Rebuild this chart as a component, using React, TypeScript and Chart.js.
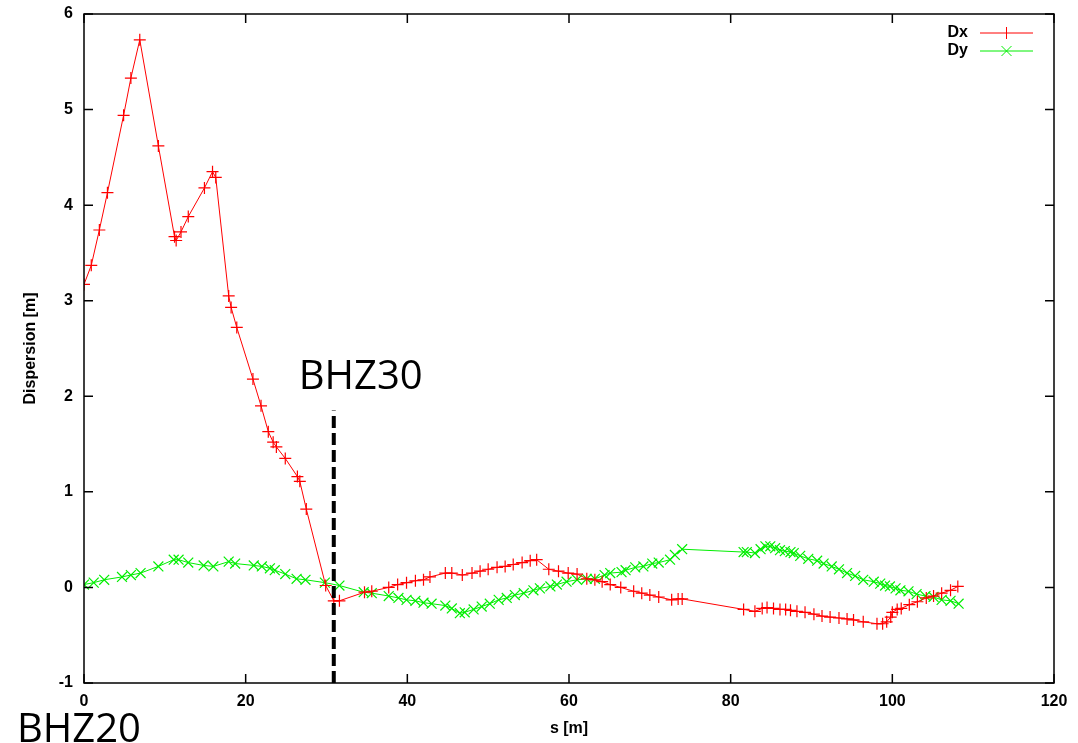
import React, { useEffect, useRef } from "react";
import { Chart, registerables } from "chart.js";

Chart.register(...registerables);

// ---- data ----
const sDx = [0, 0.9, 1.9, 2.9, 4.9, 5.8, 6.9, 9.2, 11.2, 11.4,
  12.0, 12.9, 14.9, 15.9, 16.3, 17.9, 18.2, 18.9, 20.9, 21.9,
  22.8, 23.4, 23.8, 24.9, 26.4, 26.7, 27.5, 29.9, 30.9, 31.6,
  34.7, 35.6, 37.7, 38.8, 39.9, 41.0, 42.0, 42.8, 44.7, 45.5,
  46.8, 48.0, 49.0, 50.0, 51.1, 52.1, 53.1, 54.2, 55.2, 56.0,
  57.5, 58.7, 59.9, 61.0, 62.2, 63.2, 64.1, 65.1, 66.4, 68.0,
  69.0, 70.0, 71.1, 72.7, 73.5, 74.0, 81.6, 83.0, 83.9, 84.5,
  85.3, 86.1, 86.8, 87.4, 88.2, 89.2, 90.3, 91.3, 92.3, 93.4,
  94.4, 95.2, 96.4, 98.1, 98.8, 99.3, 99.8, 100.0, 100.6, 101.1,
  102.1, 103.1, 104.2, 105.1, 106.1, 107.2, 108.1];
const dxValues = [3.17, 3.37, 3.74, 4.13, 4.94, 5.33, 5.73, 4.62, 3.67, 3.63,
  3.72, 3.88, 4.18, 4.35, 4.29, 3.05, 2.93, 2.72, 2.18, 1.90,
  1.63, 1.52, 1.47, 1.35, 1.16, 1.11, 0.82, 0.02, -0.14, -0.14,
  -0.05, -0.04, 0.00, 0.03, 0.05, 0.07, 0.08, 0.11, 0.15, 0.15,
  0.13, 0.15, 0.17, 0.19, 0.21, 0.22, 0.24, 0.26, 0.28, 0.29,
  0.19, 0.17, 0.15, 0.14, 0.09, 0.08, 0.06, 0.03, 0.00, -0.04,
  -0.06, -0.08, -0.10, -0.13, -0.12, -0.12, -0.23, -0.25, -0.22, -0.21,
  -0.22, -0.23, -0.23, -0.24, -0.25, -0.26, -0.28, -0.30, -0.31, -0.32,
  -0.33, -0.34, -0.36, -0.38, -0.38, -0.36, -0.31, -0.26, -0.23, -0.22,
  -0.18, -0.15, -0.11, -0.09, -0.06, -0.03, 0.01];

const sDy = [0, 1.2, 2.5, 4.7, 5.8, 7.0, 9.2, 11.1, 11.7, 12.9,
  14.8, 16.0, 17.9, 18.7, 21.0, 22.0, 23.0, 23.6, 24.9, 26.3,
  27.4, 29.8, 31.6, 34.6, 35.6, 37.7, 38.9, 39.9, 41.0, 42.0,
  43.0, 44.7, 45.5, 46.5, 47.1, 48.2, 49.2, 50.2, 51.3, 52.3,
  53.3, 54.4, 55.6, 56.4, 57.7, 58.5, 59.7, 61.0, 62.2, 63.2,
  64.4, 65.1, 66.5, 67.0, 68.2, 69.2, 70.3, 71.1, 72.5, 73.1,
  74.0, 81.6, 82.0, 83.0, 83.7, 84.3, 84.9, 85.5, 86.1, 86.7,
  87.4, 87.8, 88.6, 89.6, 90.7, 91.5, 92.5, 93.4, 94.4, 95.4,
  96.4, 97.7, 98.5, 99.1, 99.7, 100.4, 101.0, 102.0, 103.0, 104.1,
  105.1, 106.1, 107.2, 108.2];
const dyValues = [0.03, 0.05, 0.08, 0.11, 0.13, 0.15, 0.22, 0.29, 0.29, 0.26,
  0.23, 0.22, 0.27, 0.25, 0.23, 0.22, 0.20, 0.18, 0.14, 0.09,
  0.08, 0.05, 0.02, -0.05, -0.06, -0.09, -0.11, -0.13, -0.14, -0.16,
  -0.17, -0.19, -0.22, -0.27, -0.26, -0.23, -0.20, -0.17, -0.13, -0.11,
  -0.08, -0.06, -0.03, -0.01, 0.01, 0.03, 0.06, 0.08, 0.09, 0.09,
  0.13, 0.15, 0.16, 0.18, 0.21, 0.22, 0.25, 0.26, 0.29, 0.34,
  0.40, 0.37, 0.37, 0.36, 0.40, 0.43, 0.43, 0.41, 0.39, 0.38,
  0.37, 0.36, 0.33, 0.30, 0.28, 0.25, 0.22, 0.19, 0.15, 0.12,
  0.08, 0.06, 0.04, 0.02, 0.01, -0.01, -0.03, -0.04, -0.07, -0.09,
  -0.10, -0.13, -0.14, -0.17];

const seriesNames = ["Dx", "Dy"];
const xTicks = [0, 20, 40, 60, 80, 100, 120];
const yTicks = [-1, 0, 1, 2, 3, 4, 5, 6];
const markerLabel = "BHZ30";
const markerS = 30.9;
const markerRange = [-1, 1.85];
const startLabel = "BHZ20";

const RED = "#ff0000";
const GREEN = "#00ee00";
const AXIS_FONT = "'Liberation Sans', Arial, sans-serif";

const framePlugin = {
  id: "gnuframe",
  afterDraw(chart: any) {
    const { ctx, chartArea: a, scales } = chart;
    const xs = scales.x, ys = scales.y;
    ctx.save();
    ctx.strokeStyle = "#000";
    ctx.lineWidth = 1.5;
    ctx.strokeRect(a.left, a.top, a.right - a.left, a.bottom - a.top);
    const tl = 9;
    ctx.beginPath();
    xTicks.forEach((v) => {
      const px = xs.getPixelForValue(v);
      ctx.moveTo(px, a.bottom); ctx.lineTo(px, a.bottom - tl);
      ctx.moveTo(px, a.top); ctx.lineTo(px, a.top + tl);
    });
    yTicks.forEach((v) => {
      const py = ys.getPixelForValue(v);
      ctx.moveTo(a.left, py); ctx.lineTo(a.left + tl, py);
      ctx.moveTo(a.right, py); ctx.lineTo(a.right - tl, py);
    });
    ctx.stroke();

    // legend
    const ds = chart.data.datasets.filter((d: any) => seriesNames.includes(d.label));
    ctx.font = "bold 16px " + AXIS_FONT;
    ctx.textAlign = "right";
    ctx.textBaseline = "middle";
    ds.forEach((d: any, i: number) => {
      const y = 33 + i * 18;
      const tx = a.right - 86;
      ctx.fillStyle = "#000";
      ctx.fillText(d.label, tx, y);
      const x0 = tx + 12, x1 = tx + 65, xm = (x0 + x1) / 2;
      ctx.strokeStyle = d.borderColor;
      ctx.lineWidth = 1;
      ctx.beginPath();
      ctx.moveTo(x0, y); ctx.lineTo(x1, y);
      if (d.pointStyle === "cross") {
        ctx.moveTo(xm, y - 6); ctx.lineTo(xm, y + 6);
      } else {
        ctx.moveTo(xm - 5, y - 5); ctx.lineTo(xm + 5, y + 5);
        ctx.moveTo(xm - 5, y + 5); ctx.lineTo(xm + 5, y - 5);
      }
      ctx.stroke();
    });

    // annotations
    ctx.fillStyle = "#000";
    ctx.textAlign = "left";
    ctx.textBaseline = "alphabetic";
    ctx.font = "40px 'Open Sans', sans-serif";
    ctx.fillText(markerLabel, xs.getPixelForValue(markerS) - 35, ys.getPixelForValue(markerRange[1]) - 22);
    ctx.fillText(startLabel, 17, 742);
    ctx.restore();
  },
};

export default function App() {
  const ref = useRef<HTMLCanvasElement>(null);
  useEffect(() => {
    if (!ref.current) return;
    const chart = new Chart(ref.current, {
      type: "line",
      data: {
        datasets: [
          {
            label: markerLabel,
            data: markerRange.map((v) => ({ x: markerS, y: v })),
            borderColor: "#000",
            borderWidth: 4,
            borderDash: [12, 5],
            pointRadius: 0,
            fill: false,
          },
          {
            label: seriesNames[0],
            data: sDx.map((s, i) => ({ x: s, y: dxValues[i] })),
            borderColor: RED,
            backgroundColor: RED,
            borderWidth: 1,
            pointStyle: "cross",
            pointRadius: 6,
            pointBorderWidth: 1.2,
            fill: false,
          },
          {
            label: seriesNames[1],
            data: sDy.map((s, i) => ({ x: s, y: dyValues[i] })),
            borderColor: GREEN,
            backgroundColor: GREEN,
            borderWidth: 1,
            pointStyle: "crossRot",
            pointRadius: 7,
            pointBorderWidth: 1.2,
            fill: false,
          },
        ],
      },
      options: {
        responsive: false,
        animation: false,
        layout: { padding: { top: 14, right: 24, left: 0, bottom: 0 } },
        plugins: { legend: { display: false }, tooltip: { enabled: false } },
        scales: {
          x: {
            type: "linear",
            min: 0,
            max: 120,
            afterFit: (s: any) => { s.height = 60; s.paddingLeft = 0; s.paddingRight = 0; },
            afterBuildTicks: (s: any) => { s.ticks = xTicks.map((v) => ({ value: v })); },
            grid: { display: false, drawTicks: false },
            border: { display: false },
            ticks: { padding: 9, color: "#000", font: { family: AXIS_FONT, size: 16, weight: "bold" }, maxRotation: 0 },
            title: { display: true, text: "s [m]", color: "#000", padding: { top: 0, bottom: 5 }, font: { family: AXIS_FONT, size: 16, weight: "bold" } },
          },
          y: {
            type: "linear",
            min: -1,
            max: 6,
            afterFit: (s: any) => { s.width = 84; s.paddingTop = 0; s.paddingBottom = 0; },
            afterBuildTicks: (s: any) => { s.ticks = yTicks.map((v) => ({ value: v })); },
            grid: { display: false, drawTicks: false },
            border: { display: false },
            ticks: { padding: 11, color: "#000", font: { family: AXIS_FONT, size: 16, weight: "bold" } },
            title: { display: true, text: "Dispersion [m]", color: "#000", padding: { top: 21, bottom: 0 }, font: { family: AXIS_FONT, size: 16, weight: "bold" } },
          },
        },
      },
      plugins: [framePlugin],
    } as any);
    return () => chart.destroy();
  }, []);
  return (
    <div style={{ position: "fixed", left: 0, top: 0, width: 1078, height: 743, background: "#fff" }}>
      <canvas ref={ref} width={1078} height={743} style={{ width: 1078, height: 743, display: "block" }} />
    </div>
  );
}
